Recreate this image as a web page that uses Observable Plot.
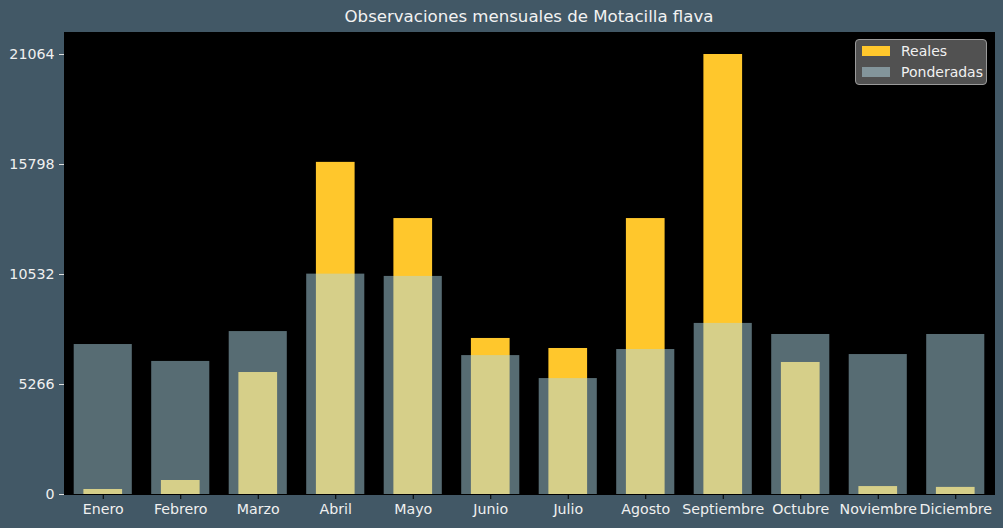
<!DOCTYPE html>
<html>
<head>
<meta charset="utf-8">
<script src="https://cdn.jsdelivr.net/npm/d3@7"></script>
<script src="https://cdn.jsdelivr.net/npm/@observablehq/plot@0.6"></script>
<style>
  html, body { margin: 0; padding: 0; background: #425866; }
  #wrap { position: relative; width: 1003px; height: 528px; font-family: "DejaVu Sans", sans-serif; }
  #title { position: absolute; left: 64px; width: 930px; top: 7px; text-align: center; color: #f2f2f2; font-size: 16.6px; }
  #legend { position: absolute; left: 855px; top: 39px; width: 132px; height: 46px; background: rgba(85,85,85,0.95); border: 1px solid #9a9a9a; border-radius: 4px; box-sizing: border-box; color: #f0f0f0; font-size: 14px; }
  .row { position: absolute; left: 6px; display: flex; align-items: center; }
  .sw { width: 28px; height: 10px; margin-right: 11px; }
</style>
</head>
<body>
<div id="wrap">
  <div id="chart"></div>
  <div id="title">Observaciones mensuales de Motacilla flava</div>
  <div id="legend">
    <div class="row" style="top:3px"><div class="sw" style="background:#FFC72C"></div><span>Reales</span></div>
    <div class="row" style="top:24px"><div class="sw" style="background:#83959b"></div><span>Ponderadas</span></div>
  </div>
</div>
<script>
const months = ["Enero","Febrero","Marzo","Abril","Mayo","Junio","Julio","Agosto","Septiembre","Octubre","Noviembre","Diciembre"];
const reales = [240, 670, 5840, 15900, 13210, 7470, 6990, 13210, 21064, 6320, 380, 340];
const ponderadas = [7180, 6370, 7800, 10550, 10440, 6650, 5550, 6940, 8190, 7660, 6700, 7660];
const yTicks = [0, 5266, 10532, 15798, 21064];

const data = months.map((m, i) => ({month: m, reales: reales[i], ponderadas: ponderadas[i]}));

const chart = Plot.plot({
  width: 1003,
  height: 528,
  marginLeft: 64,
  marginRight: 9,
  marginTop: 32,
  marginBottom: 34,
  style: {background: "#425866", color: "#f0f0f0", fontFamily: "DejaVu Sans, sans-serif", fontSize: "14px"},
  x: {domain: months, padding: 0, round: false, label: null},
  y: {domain: [0, 21064 * 1.05], label: null},
  marks: [
    Plot.frame({fill: "black", stroke: "black"}),
    Plot.barY(data, {x: "month", y: "reales", fill: "#FFC72C", insetLeft: 19.4, insetRight: 19.4}),
    Plot.barY(data, {x: "month", y: "ponderadas", fill: "lightblue", fillOpacity: 0.5, insetLeft: 9.7, insetRight: 9.7}),
    Plot.axisY({ticks: yTicks, tickFormat: d => String(d), tickSize: 5, tickPadding: 5, stroke: "#dddddd", fill: "#f0f0f0", fontSize: 14.2, label: null}),
    Plot.axisX({tickSize: 5, tickPadding: 4, stroke: "black", fill: "#f0f0f0", fontSize: 14.2, label: null}),
    Plot.ruleY([0], {stroke: "black"})
  ]
});
document.getElementById("chart").appendChild(chart);
</script>
</body>
</html>
